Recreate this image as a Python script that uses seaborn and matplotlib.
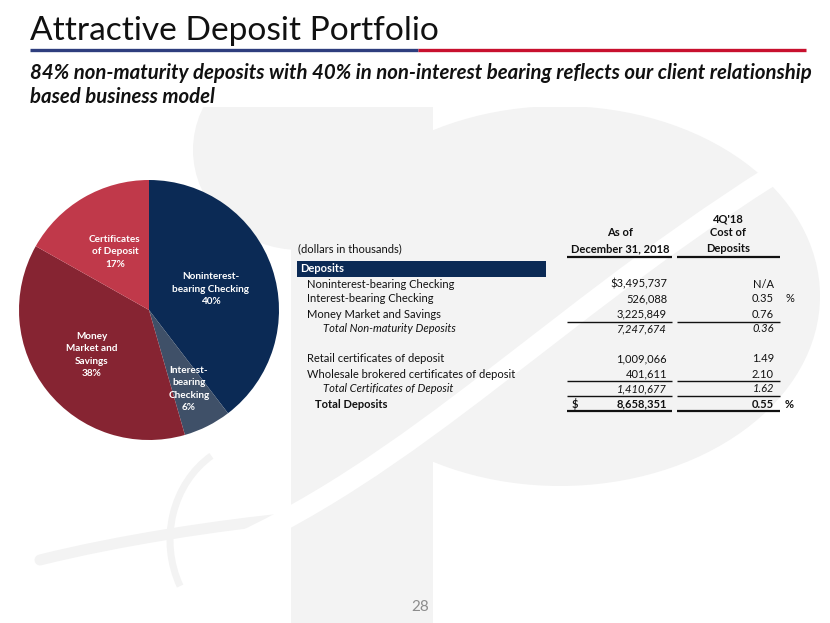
import matplotlib
matplotlib.use("Agg")
import matplotlib.pyplot as plt
import seaborn as sns
import numpy as np
from matplotlib.patches import Rectangle, Ellipse, PathPatch, Arc
from matplotlib.path import Path

# ---------------- data ----------------
title = "Attractive Deposit Portfolio"
subtitle = ["84% non-maturity deposits with 40% in non-interest bearing reflects our client relationship",
            "based business model"]
pie_labels = ["Noninterest-\nbearing Checking", "Interest-\nbearing\nChecking",
              "Money\nMarket and\nSavings", "Certificates\nof Deposit"]
pie_pcts = [40, 6, 38, 17]
pie_colors = ["#0B2A55", "#3F5068", "#862432", "#C0394A"]

row_labels = ["Noninterest-bearing Checking", "Interest-bearing Checking", "Money Market and Savings",
              "Total Non-maturity Deposits", "Retail certificates of deposit",
              "Wholesale brokered certificates of deposit", "Total Certificates of Deposit", "Total Deposits"]
row_amounts = [3495737, 526088, 3225849, 7247674, 1009066, 401611, 1410677, 8658351]
row_costs = [None, 0.35, 0.76, 0.36, 1.49, 2.10, 1.62, 0.55]
row_kind = ["item", "item", "item", "subtotal", "item", "item", "subtotal", "total"]
col_headers = [["As of", "December 31, 2018"], ["4Q'18", "Cost of", "Deposits"]]
page_number = "28"

# ---------------- style ----------------
sns.set_theme(style="white")
FONT = ["Lato", "DejaVu Sans"]
plt.rcParams["font.family"] = FONT
palette = sns.color_palette(pie_colors)

W, H = 830, 623
PT = 0.72  # points per pixel at 100 dpi
fig = plt.figure(figsize=(W / 100, H / 100), dpi=100)
fig.patch.set_facecolor("white")

bg = fig.add_axes([0, 0, 1, 1])
bg.set_xlim(0, W)
bg.set_ylim(H, 0)
bg.axis("off")

# faint watermark logo
wm = "#F3F3F3"
bg.add_patch(Rectangle((291, 107), 142, 516, color=wm, zorder=0, lw=0))
bg.add_patch(Ellipse((560, 296), 520, 380, color=wm, zorder=0, lw=0))
bg.add_patch(Ellipse((300, 150), 214, 200, color=wm, zorder=0, lw=0))
bg.add_patch(Rectangle((0, 0), W, 107, color="white", zorder=0.3, lw=0))
sw = Path([(200, 560), (420, 470), (560, 300), (820, 146)],
          [Path.MOVETO, Path.CURVE4, Path.CURVE4, Path.CURVE4])
bg.add_patch(PathPatch(sw, facecolor="none", edgecolor="white", lw=20 * PT, zorder=0.5))
tail = Path([(40, 560), (120, 540), (220, 525), (292, 518)],
            [Path.MOVETO, Path.CURVE4, Path.CURVE4, Path.CURVE4])
bg.add_patch(PathPatch(tail, facecolor="none", edgecolor=wm, lw=11 * PT, zorder=0.2,
                       capstyle="round"))
bg.add_patch(Arc((260, 540), 180, 200, theta1=150, theta2=240, color=wm, lw=7 * PT, zorder=0.2))

# title and rule
bg.text(30, 31, title, fontsize=24.1, color="#111111", va="center", ha="left")
bg.plot([30, 418], [50, 50], color="#2E3E7E", lw=2.4, solid_capstyle="butt")
bg.plot([418, 806], [50, 50], color="#C8102E", lw=2.4, solid_capstyle="butt")
for i, line in enumerate(subtitle):
    bg.text(30, 73 + 24 * i, line, fontsize=14.65, fontweight="bold", fontstyle="italic",
            color="#111111", va="center", ha="left")

# ---------------- pie ----------------
cx, cy, r = 149, 310, 130
pax = fig.add_axes([(cx - r) / W, 1 - (cy + r) / H, 2 * r / W, 2 * r / H])
wedges, _ = pax.pie(pie_pcts, colors=palette, startangle=90, counterclock=False,
                    wedgeprops=dict(linewidth=0))
pax.set_xlim(-1, 1)
pax.set_ylim(-1, 1)
pax.set_aspect("equal")
label_r = [0.5, 0.68, 0.56, 0.52]
for w, lab, pct, lr in zip(wedges, pie_labels, pie_pcts, label_r):
    ang = np.deg2rad((w.theta1 + w.theta2) / 2)
    pax.text(lr * np.cos(ang), lr * np.sin(ang), f"{lab}\n{pct}%", ha="center", va="center",
             color="white", fontsize=7.2, fontweight="bold", linespacing=1.5)

# ---------------- table ----------------
tfs = 8.0
num_right, cost_right = 667, 774
col1 = (567, 672)
col2 = (677, 780)
hdr_y = [249, 233, 219]
for j, t in enumerate(reversed(col_headers[0])):
    bg.text(620, hdr_y[j], t, ha="center", va="center", fontsize=tfs, fontweight="bold", color="#111111")
for j, t in enumerate(reversed(col_headers[1])):
    bg.text(728, hdr_y[j], t, ha="center", va="center", fontsize=tfs, fontweight="bold", color="#111111")
bg.text(298, 249, "(dollars in thousands)", ha="left", va="center", fontsize=tfs, color="#111111")
for a, b in (col1, col2):
    bg.plot([a, b], [256.5, 256.5], color="#111111", lw=1.6, solid_capstyle="butt")

bg.add_patch(Rectangle((297, 261), 249, 16, color="#0B2A55", lw=0))
bg.text(300, 269, "Deposits", ha="left", va="center", fontsize=tfs, fontweight="bold", color="white")

row_y = [284, 299, 314, 329, 359, 374, 389, 404]
for lab, amt, cost, kind, y in zip(row_labels, row_amounts, row_costs, row_kind, row_y):
    style = "italic" if kind == "subtotal" else "normal"
    weight = "bold" if kind == "total" else "normal"
    lx = {"item": 307, "subtotal": 323, "total": 315}[kind]
    bg.text(lx, y, lab, ha="left", va="center", fontsize=tfs, fontstyle=style, fontweight=weight, color="#111111")
    amt_txt = f"{amt:,}"
    if y == row_y[0]:
        amt_txt = "$" + amt_txt
    bg.text(num_right, y, amt_txt, ha="right", va="center", fontsize=tfs, fontstyle=style,
            fontweight=weight, color="#111111")
    cost_txt = "N/A" if cost is None else f"{cost:.2f}"
    bg.text(cost_right, y, cost_txt, ha="right", va="center", fontsize=tfs, fontstyle=style,
            fontweight=weight, color="#111111")
    if kind == "total":
        bg.text(572, y, "$", ha="left", va="center", fontsize=tfs, fontweight="bold", color="#111111")
    if kind == "total" or y == row_y[1]:
        bg.text(785, y, "%", ha="left", va="center", fontsize=tfs, fontweight="bold" if kind == "total" else "normal",
                color="#111111")

for ly, lw in [(322, 1.0), (381, 1.0), (396, 1.0), (411, 1.6)]:
    for a, b in (col1, col2):
        bg.plot([a, b], [ly, ly], color="#111111", lw=lw, solid_capstyle="butt")

bg.text(420, 607, page_number, ha="center", va="center", fontsize=11, color="#8C8C8C")

fig.savefig("out.png", dpi=100, facecolor="white")
